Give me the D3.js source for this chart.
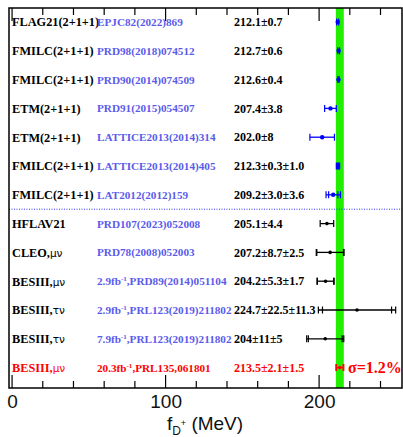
<!DOCTYPE html>
<html>
<head>
<meta charset="utf-8">
<script src="https://cdn.jsdelivr.net/npm/d3@7"></script>
<style>
  body { margin: 0; background: #fff; }
  svg { display: block; }
</style>
</head>
<body>
<div id="chart"></div>
<script>
// chart values, row by row from top to bottom
let groups = ["FLAG21(2+1+1)", "FMILC(2+1+1)", "FMILC(2+1+1)", "ETM(2+1+1)", "ETM(2+1+1)",
  "FMILC(2+1+1)", "FMILC(2+1+1)", "HFLAV21", "CLEO,", "BESIII,", "BESIII,", "BESIII,", "BESIII,"];
let decays = ["", "", "", "", "", "", "", "", "μν", "μν", "τν", "τν", "μν"];
let lumis = ["", "", "", "", "", "", "", "", "", "2.9", "2.9", "7.9", "20.3"];
let refs = ["EPJC82(2022)869", "PRD98(2018)074512", "PRD90(2014)074509", "PRD91(2015)054507",
  "LATTICE2013(2014)314", "LATTICE2013(2014)405", "LAT2012(2012)159", "PRD107(2023)052008",
  "PRD78(2008)052003", "PRD89(2014)051104", "PRL123(2019)211802", "PRL123(2019)211802", "PRL135,061801"];
let valueLabels = ["212.1±0.7", "212.7±0.6", "212.6±0.4", "207.4±3.8", "202.0±8", "212.3±0.3±1.0",
  "209.2±3.0±3.6", "205.1±4.4", "207.2±8.7±2.5", "204.2±5.3±1.7", "224.7±22.5±11.3", "204±11±5", "213.5±2.1±1.5"];
let centers = [212.1, 212.7, 212.6, 207.4, 202.0, 212.3, 209.2, 205.1, 207.2, 204.2, 224.7, 204, 213.5];
let statErr = [0.7, 0.6, 0.4, 3.8, 8, 0.3, 3.0, 4.4, 8.7, 5.3, 22.5, 11, 2.1];
let systErr = [0, 0, 0, 0, 0, 1.0, 3.6, 0, 2.5, 1.7, 11.3, 5, 1.5];
let kinds = ["lqcd", "lqcd", "lqcd", "lqcd", "lqcd", "lqcd", "lqcd", "exp", "exp", "exp", "exp", "exp", "new"];
let xTicks = [0, 100, 200];
let precisionLabel = "σ=1.2%";

//svg size and frame
let svgWidth = 403;
let svgHeight = 437;
let frame = { left: 9, right: 402, top: 8, bottom: 388 };

let colors = { lqcd: "#0000ff", exp: "#000000", new: "#ff0000" };
let textColors = { lqcd: "#5b5bea", exp: "#5b5bea", new: "#ff0000" };

let svg = d3.select("#chart")
  .append("svg")
  .attr("width", svgWidth)
  .attr("height", svgHeight);

let xScale = d3.scaleLinear()
  .domain([-2, 254])
  .range([frame.left, frame.right]);

let rows = d3.range(centers.length);
let yScale = d3.scalePoint()
  .domain(rows)
  .range([22, 367.6]);

// green band = total error of the new result
let newIdx = centers.length - 1;
let bandHalf = Math.sqrt(statErr[newIdx] ** 2 + systErr[newIdx] ** 2);
svg.append("rect")
  .attr("x", xScale(centers[newIdx] - bandHalf))
  .attr("y", frame.top)
  .attr("width", xScale(centers[newIdx] + bandHalf) - xScale(centers[newIdx] - bandHalf))
  .attr("height", frame.bottom - frame.top)
  .attr("fill", "#22ee00");

// dotted separator between lattice and experiments
let sepY = (yScale(6) + yScale(7)) / 2;
svg.append("line")
  .attr("x1", frame.left).attr("x2", frame.right)
  .attr("y1", sepY).attr("y2", sepY)
  .attr("stroke", "#3333ff")
  .attr("stroke-width", 1)
  .attr("stroke-dasharray", "1,1.5");

/********************************************/
// axes: ticks on bottom and top, every 20, long every 100
let bottomAxis = d3.axisBottom(xScale)
  .tickValues(xTicks)
  .tickSize(0)
  .tickPadding(7);
let axisG = svg.append("g")
  .attr("transform", `translate(0, ${frame.bottom})`)
  .call(bottomAxis);
axisG.select(".domain").remove();
axisG.selectAll("text")
  .attr("font-family", "Liberation Sans, Arial, sans-serif")
  .attr("font-size", 19)
  .attr("fill", "#111");

let minorTicks = d3.range(0, 241, 20);
let tickG = svg.append("g").attr("stroke", "#000").attr("stroke-width", 1.2);
minorTicks.forEach(function (t) {
  let len = t % 100 === 0 ? 13 : 7;
  tickG.append("line")
    .attr("x1", xScale(t)).attr("x2", xScale(t))
    .attr("y1", frame.bottom).attr("y2", frame.bottom - len);
  tickG.append("line")
    .attr("x1", xScale(t)).attr("x2", xScale(t))
    .attr("y1", frame.top).attr("y2", frame.top + len);
});

// frame
svg.append("rect")
  .attr("x", frame.left)
  .attr("y", frame.top)
  .attr("width", frame.right - frame.left)
  .attr("height", frame.bottom - frame.top)
  .attr("fill", "none")
  .attr("stroke", "#000")
  .attr("stroke-width", 1.5);

// axis title
let title = svg.append("text")
  .attr("x", 205)
  .attr("y", 430)
  .attr("text-anchor", "middle")
  .attr("font-family", "Liberation Sans, Arial, sans-serif")
  .attr("font-size", 19)
  .attr("fill", "#111");
title.append("tspan").text("f");
title.append("tspan").attr("font-size", 12).attr("dy", 5).text("D");
title.append("tspan").attr("font-size", 9).attr("dy", -9).text("+");
title.append("tspan").attr("dy", 4).text(" (MeV)");

/********************************************/
// text columns
let serif = "Liberation Serif, Times New Roman, serif";

let labelG = svg.append("g")
  .attr("font-family", serif)
  .attr("font-weight", "bold");

rows.forEach(function (i) {
  let y = yScale(i);
  let k = kinds[i];

  let g1 = labelG.append("text")
    .attr("x", 12)
    .attr("y", y)
    .attr("dy", "0.35em")
    .attr("font-size", 12.3)
    .attr("fill", k === "new" ? colors.new : "#000")
    .text(groups[i]);
  if (decays[i]) {
    g1.append("tspan")
      .attr("font-family", "DejaVu Sans, sans-serif")
      .attr("font-weight", "normal")
      .attr("font-size", 10.5)
      .text(decays[i]);
  }

  let r = labelG.append("text")
    .attr("x", 97)
    .attr("y", y)
    .attr("dy", "0.35em")
    .attr("font-size", 11.2)
    .attr("fill", textColors[k]);
  if (lumis[i]) {
    r.append("tspan").text(lumis[i] + "fb");
    r.append("tspan").attr("font-size", 7).attr("dy", -4).text("-1");
    r.append("tspan").attr("dy", 4).text("," + refs[i]);
  } else {
    r.text(refs[i]);
  }

  labelG.append("text")
    .attr("x", 234)
    .attr("y", y)
    .attr("dy", "0.35em")
    .attr("font-size", 12)
    .attr("fill", k === "new" ? colors.new : "#000")
    .text(valueLabels[i]);
});

/********************************************/
// error bars and points
let barG = svg.append("g");
rows.forEach(function (i) {
  let y = yScale(i);
  let c = colors[kinds[i]];
  let tot = Math.sqrt(statErr[i] ** 2 + systErr[i] ** 2);
  let ends = [statErr[i]];
  if (systErr[i] > 0) ends.push(tot);

  barG.append("line")
    .attr("x1", xScale(centers[i] - tot)).attr("x2", xScale(centers[i] + tot))
    .attr("y1", y).attr("y2", y)
    .attr("stroke", c).attr("stroke-width", 1.3);

  ends.forEach(function (e) {
    [-1, 1].forEach(function (s) {
      barG.append("line")
        .attr("x1", xScale(centers[i] + s * e)).attr("x2", xScale(centers[i] + s * e))
        .attr("y1", y - 3.5).attr("y2", y + 3.5)
        .attr("stroke", c).attr("stroke-width", 1.2);
    });
  });

  barG.append("circle")
    .attr("cx", xScale(centers[i]))
    .attr("cy", y)
    .attr("r", kinds[i] === "lqcd" ? 2.2 : 1.8)
    .attr("fill", c);
});

// precision of the new result
svg.append("text")
  .attr("x", 348)
  .attr("y", yScale(newIdx))
  .attr("dy", "0.35em")
  .attr("font-family", serif)
  .attr("font-weight", "bold")
  .attr("font-size", 16)
  .attr("fill", colors.new)
  .text(precisionLabel);
</script>
</body>
</html>
